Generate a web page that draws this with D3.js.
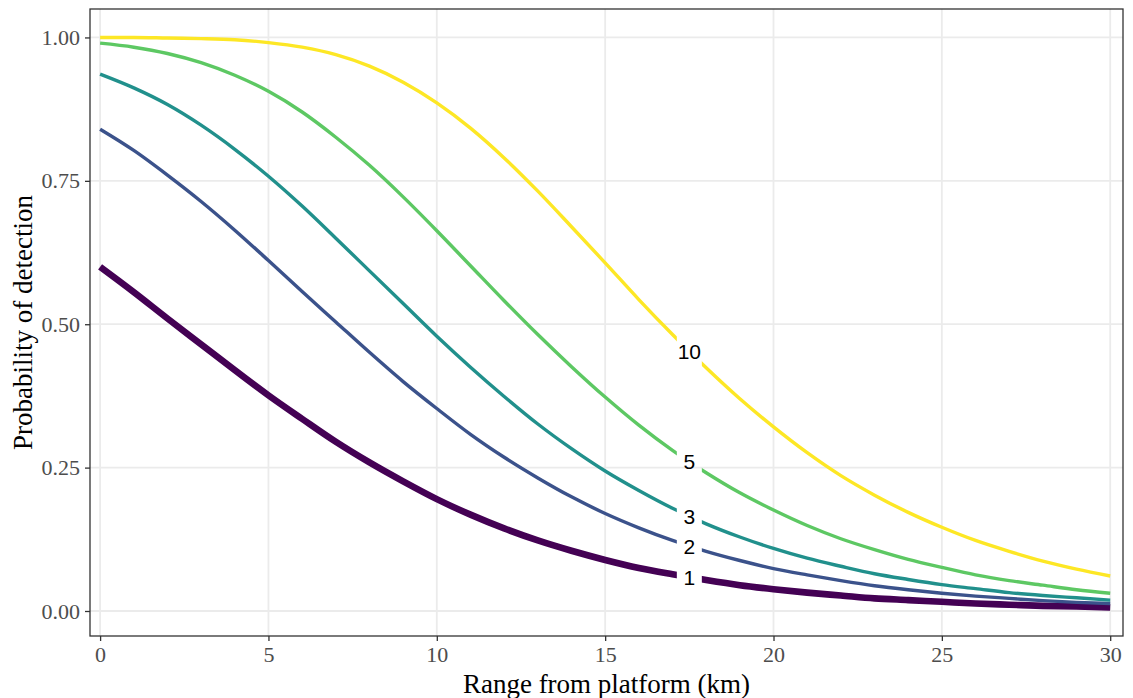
<!DOCTYPE html>
<html>
<head>
<meta charset="utf-8">
<script src="https://cdn.jsdelivr.net/npm/d3@7"></script>
<style>
  html, body { margin: 0; padding: 0; background: #ffffff; }
  svg { display: block; }
</style>
</head>
<body>
<svg id="chart" width="1133" height="698"></svg>
<script>
// Range from the platform, km
const rangeKm = [0,1,2,3,4,5,6,7,8,9,10,11,12,13,14,15,16,17,18,19,20,21,22,23,24,25,26,27,28,29,30];

// Probability of detection for each number of detection opportunities
const detect1 = [0.600,0.556,0.510,0.465,0.420,0.376,0.335,0.295,0.259,0.226,0.195,0.168,0.144,0.123,0.105,0.089,0.075,0.064,0.054,0.045,0.038,0.032,0.027,0.022,0.019,0.016,0.013,0.011,0.009,0.008,0.006];
const detect2 = [0.840,0.803,0.760,0.714,0.664,0.611,0.557,0.504,0.451,0.400,0.353,0.308,0.268,0.232,0.199,0.170,0.145,0.123,0.104,0.088,0.074,0.063,0.053,0.044,0.037,0.031,0.026,0.022,0.018,0.015,0.013];
const detect3 = [0.936,0.912,0.883,0.847,0.805,0.758,0.706,0.650,0.593,0.536,0.479,0.425,0.374,0.326,0.283,0.244,0.210,0.179,0.152,0.129,0.109,0.092,0.078,0.065,0.055,0.046,0.039,0.032,0.027,0.023,0.019];
const detect5 = [0.990,0.983,0.972,0.956,0.934,0.906,0.870,0.826,0.777,0.722,0.663,0.602,0.541,0.482,0.426,0.373,0.324,0.280,0.241,0.206,0.176,0.149,0.126,0.107,0.090,0.076,0.063,0.053,0.045,0.037,0.031];
const detect10 = [1.000,1.000,0.999,0.998,0.996,0.991,0.983,0.970,0.950,0.922,0.886,0.842,0.790,0.732,0.670,0.607,0.543,0.482,0.424,0.370,0.321,0.276,0.236,0.202,0.172,0.146,0.123,0.104,0.087,0.073,0.061];

const seriesNames = ["1", "2", "3", "5", "10"];
const seriesValues = [detect1, detect2, detect3, detect5, detect10];
const seriesColors = ["#440154", "#3B528B", "#21908C", "#5DC863", "#FDE725"];
const seriesWidths = [6.6, 3.4, 3.4, 3.4, 3.4];
const labelAtKm = 17.5;

const xTicks = [0, 5, 10, 15, 20, 25, 30];
const yTicks = [0, 0.25, 0.5, 0.75, 1];

const panel = { left: 90, right: 1123, top: 9, bottom: 636 };

const svg = d3.select("#chart");

const x = d3.scaleLinear().domain([-0.3, 30.38]).range([panel.left, panel.right]);
const y = d3.scaleLinear().domain([-0.0436, 1.0496]).range([panel.bottom, panel.top]);

// Panel background
svg.append("rect")
  .attr("x", panel.left).attr("y", panel.top)
  .attr("width", panel.right - panel.left).attr("height", panel.bottom - panel.top)
  .attr("fill", "#ffffff");

// Grid lines
const grid = svg.append("g");
grid.selectAll("line.gx").data(xTicks).join("line")
  .attr("x1", d => x(d)).attr("x2", d => x(d))
  .attr("y1", panel.top).attr("y2", panel.bottom)
  .attr("stroke", "#ebebeb").attr("stroke-width", 1.8);
grid.selectAll("line.gy").data(yTicks).join("line")
  .attr("y1", d => y(d)).attr("y2", d => y(d))
  .attr("x1", panel.left).attr("x2", panel.right)
  .attr("stroke", "#ebebeb").attr("stroke-width", 1.8);

// Curves, each with a gap where its label sits
const defs = svg.append("defs");
const line = d3.line()
  .x((d, i) => x(rangeKm[i]))
  .y(d => y(d))
  .curve(d3.curveMonotoneX);

const curves = svg.append("g");
const labelLayer = svg.append("g");

seriesValues.forEach((vals, k) => {
  const path = curves.append("path")
    .datum(vals)
    .attr("d", line)
    .attr("fill", "none")
    .attr("stroke", seriesColors[k])
    .attr("stroke-width", seriesWidths[k]);

  // find the point on the drawn curve at the label's range
  const node = path.node();
  const total = node.getTotalLength();
  const targetX = x(labelAtKm);
  let lo = 0, hi = total;
  for (let it = 0; it < 40; it++) {
    const mid = (lo + hi) / 2;
    if (node.getPointAtLength(mid).x < targetX) lo = mid; else hi = mid;
  }
  const pt = node.getPointAtLength((lo + hi) / 2);

  const maskId = "gap-" + k;
  const mask = defs.append("mask").attr("id", maskId)
    .attr("maskUnits", "userSpaceOnUse")
    .attr("x", 0).attr("y", 0).attr("width", 1133).attr("height", 698);
  mask.append("rect").attr("x", 0).attr("y", 0).attr("width", 1133).attr("height", 698).attr("fill", "#fff");
  mask.append("rect")
    .attr("x", pt.x - 12.5).attr("y", pt.y - 20)
    .attr("width", 25).attr("height", 40)
    .attr("fill", "#000");
  path.attr("mask", `url(#${maskId})`);

  labelLayer.append("text")
    .attr("x", pt.x).attr("y", pt.y)
    .attr("dy", "0.36em")
    .attr("text-anchor", "middle")
    .attr("font-family", "'Liberation Sans', Arial, sans-serif")
    .attr("font-size", 21)
    .attr("fill", "#000000")
    .text(seriesNames[k]);
});

// Panel border
svg.append("rect")
  .attr("x", panel.left).attr("y", panel.top)
  .attr("width", panel.right - panel.left).attr("height", panel.bottom - panel.top)
  .attr("fill", "none").attr("stroke", "#333333").attr("stroke-width", 1.3);

// Axes
const xAxis = svg.append("g")
  .attr("transform", `translate(0,${panel.bottom})`)
  .call(d3.axisBottom(x).tickValues(xTicks).tickFormat(d3.format("d")).tickSize(5).tickPadding(5));
const yAxis = svg.append("g")
  .attr("transform", `translate(${panel.left},0)`)
  .call(d3.axisLeft(y).tickValues(yTicks).tickFormat(d3.format(".2f")).tickSize(5).tickPadding(5));

[xAxis, yAxis].forEach(ax => {
  ax.select(".domain").remove();
  ax.selectAll(".tick line").attr("stroke", "#333333").attr("stroke-width", 1.3);
  ax.selectAll(".tick text")
    .attr("font-family", "'Liberation Serif', 'Times New Roman', serif")
    .attr("font-size", 22)
    .attr("fill", "#4d4d4d");
});

// Axis titles
svg.append("text")
  .attr("x", (panel.left + panel.right) / 2).attr("y", 693)
  .attr("text-anchor", "middle")
  .attr("font-family", "'Liberation Serif', 'Times New Roman', serif")
  .attr("font-size", 27)
  .attr("fill", "#000000")
  .text("Range from platform (km)");

svg.append("text")
  .attr("transform", `translate(32,${(panel.top + panel.bottom) / 2}) rotate(-90)`)
  .attr("text-anchor", "middle")
  .attr("font-family", "'Liberation Serif', 'Times New Roman', serif")
  .attr("font-size", 27)
  .attr("fill", "#000000")
  .text("Probability of detection");
</script>
</body>
</html>
